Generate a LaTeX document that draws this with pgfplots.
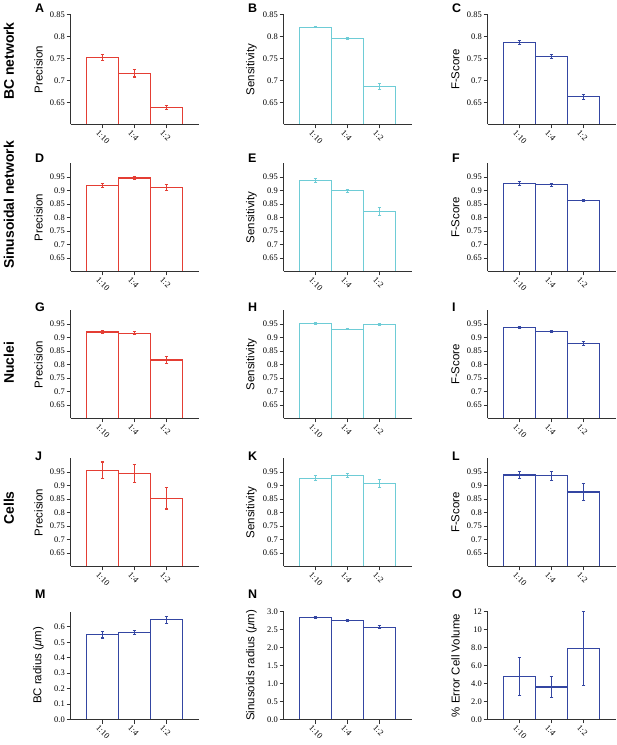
\documentclass[border=0pt]{standalone}
\usepackage{pgfplots}
\pgfplotsset{compat=1.18}
\usepackage{fontspec}
\setmainfont{Liberation Sans}
\newfontfamily\tickfont{Liberation Serif}
\definecolor{cred}{RGB}{228,62,52}
\definecolor{ccyan}{RGB}{110,204,214}
\definecolor{cblue}{RGB}{52,70,162}
\definecolor{caxis}{RGB}{50,50,50}
\pgfplotsset{
  panel/.style={
    scale only axis, width=128bp, height=108bp,
    anchor=south west, axis on top, clip mode=individual,
    axis x line*=bottom, axis y line*=left,
    axis line style={color=caxis, line width=1.3bp},
    every tick/.style={color=caxis, line width=0.9bp},
    tick align=outside, major tick length=4bp,
    xmin=0, xmax=4, xtick={1,2,3}, xticklabels={1:10,1:4,1:2},
    /pgf/number format/assume math mode=true,
    tick label style={font=\fontsize{8.5}{9}\tickfont},
    x tick label style={rotate=-45, anchor=north west, inner sep=0.5bp, xshift=-2bp, yshift=-2bp},
    y tick label style={inner sep=1.5bp},
    ylabel style={at={(axis description cs:-0.25,0.5)}, anchor=center, font=\fontsize{11.5}{12}\selectfont},
  },
  prow1/.style={panel, height=110bp, ymin=0.6, ymax=0.85, ytick={0.65,0.7,0.75,0.8,0.85}},
  prow/.style={panel, ymin=0.6, ymax=1.0, ytick={0.65,0.7,0.75,0.8,0.85,0.9,0.95}},
}
\newcommand{\bars}[2]{\addplot[ybar, bar width=1, color=#1, draw=#1, line width=1.3bp,
   error bars/.cd, y dir=both, y explicit,
   error bar style={color=#1, line width=1.1bp},
   error mark options={rotate=90, color=#1, mark size=1.8bp, line width=1.1bp}] coordinates {#2};}
\newcommand{\letter}[3]{\node[anchor=north west, inner sep=0pt, font=\bfseries\fontsize{12.5}{12.5}\selectfont] at (#1bp,#2bp) {#3};}
\newcommand{\rowlabel}[2]{\node[rotate=90, inner sep=0pt, font=\bfseries\fontsize{14}{14}\selectfont] at (9bp,#1bp) {#2};}
\begin{document}
\begin{tikzpicture}
\path[use as bounding box] (0,0) rectangle (617bp,745bp);
% ---------------- Row 1: BC network
\begin{axis}[prow1, at={(70.5bp,620.5bp)}, ylabel={Precision}]
\bars{cred}{(1,0.752) +- (0,0.0075) (2,0.716) +- (0,0.008) (3,0.639) +- (0,0.005)}
\end{axis}
\begin{axis}[prow1, at={(283.5bp,620.5bp)}, ylabel={Sensitivity}]
\bars{ccyan}{(1,0.821) +- (0,0.001) (2,0.795) +- (0,0.002) (3,0.687) +- (0,0.007)}
\end{axis}
\begin{axis}[prow1, at={(487.5bp,620.5bp)}, ylabel={F-Score}]
\bars{cblue}{(1,0.786) +- (0,0.004) (2,0.754) +- (0,0.005) (3,0.663) +- (0,0.006)}
\end{axis}
% ---------------- Row 2: Sinusoidal network
\begin{axis}[prow, at={(70.5bp,473.5bp)}, ylabel={Precision}]
\bars{cred}{(1,0.918) +- (0,0.008) (2,0.946) +- (0,0.006) (3,0.911) +- (0,0.010)}
\end{axis}
\begin{axis}[prow, at={(283.5bp,473.5bp)}, ylabel={Sensitivity}]
\bars{ccyan}{(1,0.937) +- (0,0.006) (2,0.899) +- (0,0.006) (3,0.822) +- (0,0.015)}
\end{axis}
\begin{axis}[prow, at={(487.5bp,473.5bp)}, ylabel={F-Score}]
\bars{cblue}{(1,0.927) +- (0,0.007) (2,0.921) +- (0,0.005) (3,0.862) +- (0,0.004)}
\end{axis}
% ---------------- Row 3: Nuclei
\begin{axis}[prow, at={(70.5bp,326.5bp)}, ylabel={Precision}]
\bars{cred}{(1,0.920) +- (0,0.005) (2,0.916) +- (0,0.006) (3,0.817) +- (0,0.013)}
\end{axis}
\begin{axis}[prow, at={(283.5bp,326.5bp)}, ylabel={Sensitivity}]
\bars{ccyan}{(1,0.952) +- (0,0.002) (2,0.930) +- (0,0.002) (3,0.948) +- (0,0.002)}
\end{axis}
\begin{axis}[prow, at={(487.5bp,326.5bp)}, ylabel={F-Score}]
\bars{cblue}{(1,0.936) +- (0,0.003) (2,0.923) +- (0,0.004) (3,0.877) +- (0,0.008)}
\end{axis}
% ---------------- Row 4: Cells
\begin{axis}[prow, at={(70.5bp,178.5bp)}, ylabel={Precision}]
\bars{cred}{(1,0.956) +- (0,0.031) (2,0.945) +- (0,0.033) (3,0.853) +- (0,0.040)}
\end{axis}
\begin{axis}[prow, at={(283.5bp,178.5bp)}, ylabel={Sensitivity}]
\bars{ccyan}{(1,0.927) +- (0,0.009) (2,0.937) +- (0,0.006) (3,0.907) +- (0,0.016)}
\end{axis}
\begin{axis}[prow, at={(487.5bp,178.5bp)}, ylabel={F-Score}]
\bars{cblue}{(1,0.939) +- (0,0.013) (2,0.936) +- (0,0.016) (3,0.876) +- (0,0.031)}
\end{axis}
% ---------------- Row 5
\begin{axis}[panel, at={(70.5bp,25.5bp)}, ymin=0, ymax=0.7,
  ytick={0,0.1,0.2,0.3,0.4,0.5,0.6}, yticklabels={0.0,0.1,0.2,0.3,0.4,0.5,0.6},
  ylabel={BC radius ({\itshape μ}m)}]
\bars{cblue}{(1,0.550) +- (0,0.022) (2,0.565) +- (0,0.012) (3,0.646) +- (0,0.022)}
\end{axis}
\begin{axis}[panel, at={(283.5bp,25.5bp)}, ymin=0, ymax=3,
  ytick={0,0.5,1,1.5,2,2.5,3}, yticklabels={0.0,0.5,1.0,1.5,2.0,2.5,3.0},
  ylabel={Sinusoids radius ({\itshape μ}m)}]
\bars{cblue}{(1,2.83) +- (0,0.03) (2,2.75) +- (0,0.03) (3,2.56) +- (0,0.04)}
\end{axis}
\begin{axis}[panel, at={(487.5bp,25.5bp)}, ymin=0, ymax=12,
  ytick={0,2,4,6,8,10,12}, yticklabels={0.0,2.0,4.0,6.0,8.0,10,12},
  ylabel={\% Error Cell Volume}]
\bars{cblue}{(1,4.75) +- (0,2.1) (2,3.6) +- (0,1.2) (3,7.85) +- (0,4.1)}
\end{axis}
% ---------------- letters
\letter{35}{741}{A}\letter{248}{741}{B}\letter{452}{741}{C}
\letter{35}{591}{D}\letter{248}{591}{E}\letter{452}{591}{F}
\letter{35}{442}{G}\letter{248}{442}{H}\letter{452}{442}{I}
\letter{35}{293}{J}\letter{248}{293}{K}\letter{452}{293}{L}
\letter{35}{155}{M}\letter{248}{155}{N}\letter{452}{155}{O}
% ---------------- row labels
\rowlabel{684}{BC network}
\rowlabel{540}{Sinusoidal network}
\rowlabel{382}{Nuclei}
\rowlabel{237}{Cells}
\end{tikzpicture}
\end{document}
